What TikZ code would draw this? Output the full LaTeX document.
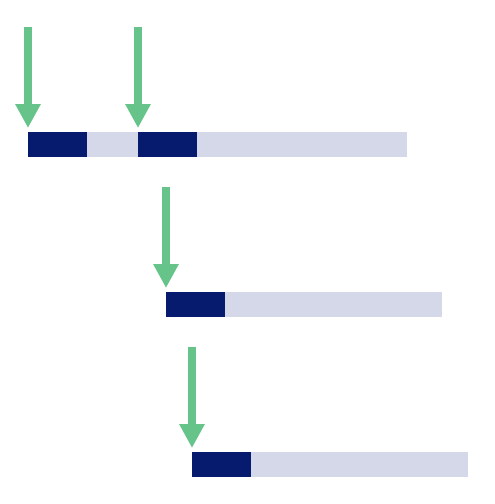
\documentclass[tikz,border=0pt]{standalone}
\usetikzlibrary{arrows.meta,calc}

\definecolor{pointergreen}{HTML}{66C48A}
\definecolor{blockblue}{HTML}{061A6E}
\definecolor{tracklight}{HTML}{D4D8E8}

\begin{document}
\begin{tikzpicture}[x=1pt, y=-1pt,
  every track/.style={fill=tracklight, draw=none, inner sep=0pt, anchor=north west, minimum height=25pt},
  every block/.style={fill=blockblue, draw=none, inner sep=0pt, anchor=north west, minimum height=25pt, minimum width=59pt},
  pointer/.style={draw=pointergreen, line width=8pt, shorten >=4pt, -{Triangle[width=24pt,length=24pt]}}]

\useasboundingbox (0,0) rectangle (495,504);

\node [every track/.try, minimum width=379pt] (track-1) at (28,132) {};
\node [every track/.try, minimum width=276pt] (track-2) at (166,292) {};
\node [every track/.try, minimum width=276pt] (track-3) at (192,452) {};

\foreach \m/\x/\y in {1/28/132, 2/138/132, 3/166/292, 4/192/452}
  \node [every block/.try] (block-\m) at (\x,\y) {};

\foreach \m in {1,...,4}
  \coordinate (top-\m) at ($(block-\m.north west)+(0,-105)$);

\foreach \m in {1,...,4}
  \draw [pointer] (top-\m) -- (block-\m.north west);

\end{tikzpicture}
\end{document}
